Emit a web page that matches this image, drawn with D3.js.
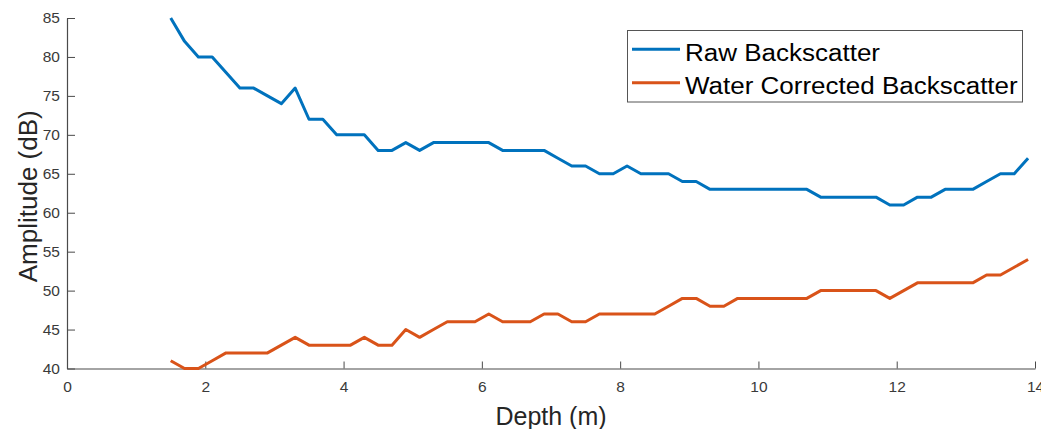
<!DOCTYPE html>
<html>
<head>
<meta charset="utf-8">
<script src="https://d3js.org/d3.v7.min.js"></script>
<style>
  body { margin: 0; background: #fff; }
  svg { display: block; font-family: "Liberation Sans", Arial, sans-serif; }
</style>
</head>
<body>
<svg width="1041" height="429"></svg>

<script>
// depth of each sample (m)
var depth = [1.5, 1.7, 1.9, 2.1, 2.3, 2.5, 2.7, 2.9, 3.1, 3.3,
             3.5, 3.7, 3.9, 4.1, 4.3, 4.5, 4.7, 4.9, 5.1, 5.3,
             5.5, 5.7, 5.9, 6.1, 6.3, 6.5, 6.7, 6.9, 7.1, 7.3,
             7.5, 7.7, 7.9, 8.1, 8.3, 8.5, 8.7, 8.9, 9.1, 9.3,
             9.5, 9.7, 9.9, 10.1, 10.3, 10.5, 10.7, 10.9, 11.1, 11.3,
             11.5, 11.7, 11.9, 12.1, 12.3, 12.5, 12.7, 12.9, 13.1, 13.3,
             13.5, 13.7, 13.9];

var rawBackscatter = [85, 82, 80, 80, 78, 76, 76, 75, 74, 76,
                      72, 72, 70, 70, 70, 68, 68, 69, 68, 69,
                      69, 69, 69, 69, 68, 68, 68, 68, 67, 66,
                      66, 65, 65, 66, 65, 65, 65, 64, 64, 63,
                      63, 63, 63, 63, 63, 63, 63, 62, 62, 62,
                      62, 62, 61, 61, 62, 62, 63, 63, 63, 64,
                      65, 65, 67];

var waterCorrected = [41, 40, 40, 41, 42, 42, 42, 42, 43, 44,
                      43, 43, 43, 43, 44, 43, 43, 45, 44, 45,
                      46, 46, 46, 47, 46, 46, 46, 47, 47, 46,
                      46, 47, 47, 47, 47, 47, 48, 49, 49, 48,
                      48, 49, 49, 49, 49, 49, 49, 50, 50, 50,
                      50, 50, 49, 50, 51, 51, 51, 51, 51, 52,
                      52, 53, 54];

var seriesNames = ["Raw Backscatter", "Water Corrected Backscatter"];
var seriesColors = ["#0072BD", "#D95319"];
var xTicks = [0, 2, 4, 6, 8, 10, 12, 14];
var yTicks = [40, 45, 50, 55, 60, 65, 70, 75, 80, 85];

var svg = d3.select("svg");
var mLeft = 67, mRight = 1035, mTop = 18, mBottom = 368.5;

var x = d3.scaleLinear().domain([0, 14]).range([mLeft, mRight]);
var y = d3.scaleLinear().domain([40, 85]).range([mBottom, mTop]);

var axisColor = "#4a4a4a";

// x axis, ticks pointing inward
var gx = svg.append("g")
    .attr("transform", "translate(0," + mBottom + ")")
    .call(d3.axisBottom(x).tickValues(xTicks).tickSizeInner(-7).tickSizeOuter(0).tickPadding(12));

var gy = svg.append("g")
    .attr("transform", "translate(" + mLeft + ",0)")
    .call(d3.axisLeft(y).tickValues(yTicks).tickSizeInner(-8).tickSizeOuter(0).tickPadding(7));

[gx, gy].forEach(function(g) {
  g.attr("font-size", null).attr("font-family", null);
  g.select(".domain").attr("stroke", axisColor).attr("stroke-width", 1.2);
  g.selectAll(".tick line").attr("stroke", axisColor).attr("stroke-width", 1);
  g.selectAll(".tick text")
      .attr("fill", "#3a3a3a")
      .style("font-size", "15.5px");
});
gx.selectAll(".tick text").attr("dy", "0.71em");

// axis labels
svg.append("text")
    .attr("x", (mLeft + mRight) / 2)
    .attr("y", 424.5)
    .attr("text-anchor", "middle")
    .attr("fill", "#262626")
    .style("font-size", "25px")
    .text("Depth (m)");

svg.append("text")
    .attr("transform", "translate(36.5," + ((mTop + mBottom) / 2 + 3) + ") rotate(-90)")
    .attr("text-anchor", "middle")
    .attr("fill", "#262626")
    .style("font-size", "26px")
    .text("Amplitude (dB)");

// lines
var line = d3.line()
    .x(function(d) { return x(d[0]); })
    .y(function(d) { return y(d[1]); });

[rawBackscatter, waterCorrected].forEach(function(vals, i) {
  svg.append("path")
      .datum(depth.map(function(dp, j) { return [dp, vals[j]]; }))
      .attr("fill", "none")
      .attr("stroke", seriesColors[i])
      .attr("stroke-width", 3)
      .attr("stroke-linejoin", "round")
      .attr("d", line);
});

// legend
var lg = svg.append("g");
lg.append("rect")
    .attr("x", 627.5).attr("y", 30.5)
    .attr("width", 395).attr("height", 71.5)
    .attr("fill", "#fff")
    .attr("stroke", "#555")
    .attr("stroke-width", 1);

// the reference font is a bit wider than Liberation Sans, so stretch it
var stretch = 1.13;
seriesNames.forEach(function(name, i) {
  var ly = 49.3 + i * 33.5;
  lg.append("line")
      .attr("x1", 632).attr("x2", 680)
      .attr("y1", ly).attr("y2", ly)
      .attr("stroke", seriesColors[i])
      .attr("stroke-width", 3);
  var t = lg.append("text")
      .attr("x", 685).attr("y", ly + 11.5)
      .attr("fill", "#000")
      .style("font-size", "23px")
      .text(name);
  var w = t.node().getComputedTextLength();
  t.attr("textLength", w * stretch).attr("lengthAdjust", "spacingAndGlyphs");
});
</script>
</body>
</html>
